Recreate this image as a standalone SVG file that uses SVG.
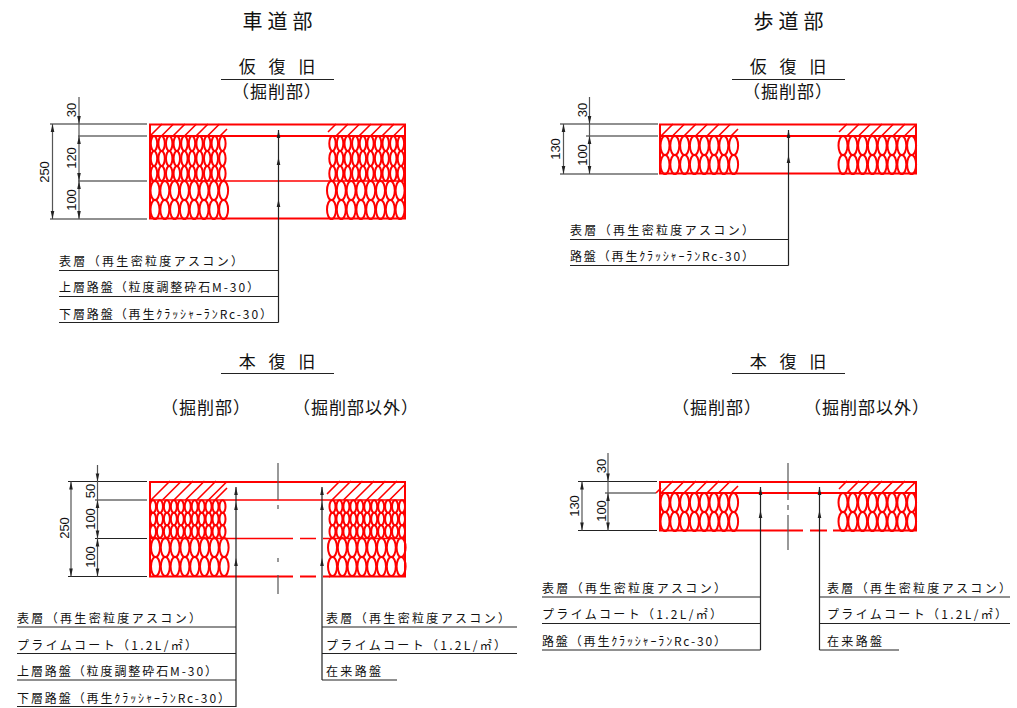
<svg xmlns="http://www.w3.org/2000/svg" xmlns:xlink="http://www.w3.org/1999/xlink" width="1017" height="708" viewBox="0 0 1017 708">
<style>
text{font-family:"Noto Sans CJK JP","Noto Sans",sans-serif;fill:#111}
.t1{font-size:20px;text-anchor:middle;letter-spacing:5px}
.t2{font-size:17px;text-anchor:middle;letter-spacing:1px}
.t3{font-size:17px;text-anchor:middle;word-spacing:9px}
.l{font-size:12px}
.d{font-family:"Liberation Sans",sans-serif;font-size:13px;text-anchor:middle}
.r{fill:none;stroke:#f00;stroke-width:2}
.r1{fill:none;stroke:#f00;stroke-width:1.6}
.e{fill:none;stroke:#f00;stroke-width:2}
.k{fill:none;stroke:#222;stroke-width:1.2}
.k2{fill:none;stroke:#555;stroke-width:1.2}
</style>
<defs>
<path id="u" d="M0 0l-1.800 8h3.600z" fill="#222"/>
<path id="n" d="M0 0l-1.800 -8h3.600z" fill="#222"/>
<ellipse id="a" rx="3.200" ry="7.400" class="e"/>
<ellipse id="b" rx="4.500" ry="9.600" class="e"/>
<ellipse id="c" rx="3" ry="6.300" class="e"/>
<g id="row10">
<use href="#a" x="0"/><use href="#a" x="7.600"/><use href="#a" x="15.200"/><use href="#a" x="22.800"/><use href="#a" x="30.400"/><use href="#a" x="38"/><use href="#a" x="45.600"/><use href="#a" x="53.200"/><use href="#a" x="60.800"/><use href="#a" x="68.400"/>
</g>
<g id="row8">
<use href="#b" x="0"/><use href="#b" x="9.800"/><use href="#b" x="19.600"/><use href="#b" x="29.400"/><use href="#b" x="39.200"/><use href="#b" x="49"/><use href="#b" x="58.800"/><use href="#b" x="68.600"/>
</g>
<g id="row11">
<use href="#c" x="0"/><use href="#c" x="6.950"/><use href="#c" x="13.900"/><use href="#c" x="20.850"/><use href="#c" x="27.800"/><use href="#c" x="34.750"/><use href="#c" x="41.700"/><use href="#c" x="48.650"/><use href="#c" x="55.600"/><use href="#c" x="62.550"/><use href="#c" x="69.500"/>
</g>
<path id="h12" class="r1" d="M1 12L13 0M12.500 12L24.500 0M24 12L36 0M35.500 12L47.500 0M47 12L59 0M58.500 12L70.500 0M71 12L78 5M179 8L187 0M187 12L199 0M198.500 12L210.500 0M210 12L222 0M221.500 12L233.500 0M233 12L245 0M244.500 12L256 .5"/>
<path id="h19" class="r1" d="M2 19L21 0M13.500 19L32.500 0M25 19L44 0M36.500 19L55.500 0M48 19L67 0M59.500 19L78 .5M66 19L78 7"/>
<path id="h19r" class="r1" d="M178 13L187 4L191 0M183 19L202 0M194.500 19L213.500 0M206 19L225 0M217.500 19L236.500 0M229 19L248 0M240.500 19L256 3.500"/>
</defs>

<g id="titles">
<text class="t1" x="280" y="29">車道部</text>
<text class="t1" x="791" y="29">歩道部</text>
</g>

<g id="panel-a">
<text class="t3" x="277" y="72.500">仮 復 旧</text>
<text class="t2" x="277" y="97.500">（掘削部）</text>
<path class="k" d="M221 79.500H334"/>
<rect class="r" x="150" y="124.500" width="255" height="94"/>
<path class="r" d="M150 136H405"/>
<path class="r1" d="M150 181H405"/>
<use href="#h12" x="149" y="124"/>
<use href="#row10" x="154" y="143.500"/><use href="#row10" x="154" y="158.500"/><use href="#row10" x="154" y="173.500"/>
<use href="#row10" x="332.500" y="143.500"/><use href="#row10" x="332.500" y="158.500"/><use href="#row10" x="332.500" y="173.500"/>
<use href="#row8" x="155" y="190.500"/><use href="#row8" x="155" y="209.500"/>
<use href="#row8" x="331.500" y="190.500"/><use href="#row8" x="331.500" y="209.500"/>
</g>

<g id="panel-b">
<text class="t3" x="788" y="72.500">仮 復 旧</text>
<text class="t2" x="788" y="97.500">（掘削部）</text>
<path class="k" d="M732 79.500H845"/>
<rect class="r" x="660" y="124.500" width="256" height="49"/>
<path class="r" d="M660 136H916"/>
<use href="#h12" x="660" y="124"/>
<use href="#row8" x="665" y="145.500"/><use href="#row8" x="665" y="164.500"/>
<use href="#row8" x="843" y="145.500"/><use href="#row8" x="843" y="164.500"/>
</g>

<g id="panel-c">
<text class="t3" x="277" y="368">本 復 旧</text>
<path class="k" d="M221 373.500H334"/>
<text class="t2" x="206" y="414">（掘削部）</text>
<text class="t2" x="356" y="414">（掘削部以外）</text>
<path class="r" d="M226 482H150V576.500H226M329 482H405V576.500H329M226 482H329"/>
<path class="r1" d="M150 500H405"/>
<path class="r1" d="M150 538.500H293M300 538.500H316M323 538.500H405"/>
<path class="r" d="M226 576.500H293M300 576.500H316M323 576.500H330"/>
<use href="#h19" x="149" y="481"/><use href="#h19r" x="149" y="481"/>
<use href="#row11" x="153" y="506.500"/><use href="#row11" x="153" y="519"/><use href="#row11" x="153" y="531.500"/>
<use href="#row11" x="332.500" y="506.500"/><use href="#row11" x="332.500" y="519"/><use href="#row11" x="332.500" y="531.500"/>
<use href="#row8" x="155.500" y="547.500"/><use href="#row8" x="155.500" y="566.500"/>
<use href="#row8" x="332.500" y="547.500"/><use href="#row8" x="332.500" y="566.500"/>
</g>

<g id="panel-d">
<text class="t3" x="788" y="368">本 復 旧</text>
<path class="k" d="M732 373.500H845"/>
<text class="t2" x="717" y="414">（掘削部）</text>
<text class="t2" x="867" y="414">（掘削部以外）</text>
<path class="r" d="M737 482H660V530.500H737M840 482H916V530.500H840M737 482H840"/>
<path class="r" d="M660 493H916"/>
<path class="r" d="M737 530.500H803M810 530.500H827M833 530.500H840"/>
<use href="#h12" x="660" y="481"/>
<path class="r1" d="M656 493L661 488"/>
<use href="#row8" x="665" y="502.500"/><use href="#row8" x="665" y="521.500"/>
<use href="#row8" x="843" y="502.500"/><use href="#row8" x="843" y="521.500"/>
</g>

<g id="labels">
<text class="l" x="59" y="266" textLength="184">表層（再生密粒度アスコン）</text>
<text class="l" x="59" y="292" textLength="200">上層路盤（粒度調整砕石M-30）</text>
<text class="l" x="59" y="319" textLength="213">下層路盤（再生ｸﾗｯｼｬｰﾗﾝRc-30）</text>
<text class="l" x="570" y="235" textLength="184">表層（再生密粒度アスコン）</text>
<text class="l" x="570" y="261" textLength="184">路盤（再生ｸﾗｯｼｬｰﾗﾝRc-30）</text>
<text class="l" x="17" y="623" textLength="184">表層（再生密粒度アスコン）</text>
<text class="l" x="17" y="650" textLength="180">プライムコート（1.2L/㎡）</text>
<text class="l" x="17" y="676" textLength="200">上層路盤（粒度調整砕石M-30）</text>
<text class="l" x="17" y="703" textLength="213">下層路盤（再生ｸﾗｯｼｬｰﾗﾝRc-30）</text>
<text class="l" x="326" y="623" textLength="184">表層（再生密粒度アスコン）</text>
<text class="l" x="326" y="650" textLength="180">プライムコート（1.2L/㎡）</text>
<text class="l" x="326" y="676" textLength="55">在来路盤</text>
<text class="l" x="542" y="593" textLength="184">表層（再生密粒度アスコン）</text>
<text class="l" x="542" y="619" textLength="180">プライムコート（1.2L/㎡）</text>
<text class="l" x="542" y="646" textLength="184">路盤（再生ｸﾗｯｼｬｰﾗﾝRc-30）</text>
<text class="l" x="827" y="593" textLength="184">表層（再生密粒度アスコン）</text>
<text class="l" x="827" y="619" textLength="180">プライムコート（1.2L/㎡）</text>
<text class="l" x="827" y="646" textLength="55">在来路盤</text>
</g>

<g id="dimension-labels">
<text class="d" transform="translate(76,110) rotate(-90)">30</text>
<text class="d" transform="translate(76,158) rotate(-90)">120</text>
<text class="d" transform="translate(76,200) rotate(-90)">100</text>
<text class="d" transform="translate(49,172) rotate(-90)">250</text>
<text class="d" transform="translate(587,110) rotate(-90)">30</text>
<text class="d" transform="translate(587,155) rotate(-90)">100</text>
<text class="d" transform="translate(560,149) rotate(-90)">130</text>
<text class="d" transform="translate(95,491) rotate(-90)">50</text>
<text class="d" transform="translate(95,519) rotate(-90)">100</text>
<text class="d" transform="translate(95,557) rotate(-90)">100</text>
<text class="d" transform="translate(69,528) rotate(-90)">250</text>
<text class="d" transform="translate(606,466) rotate(-90)">30</text>
<text class="d" transform="translate(606,511) rotate(-90)">100</text>
<text class="d" transform="translate(579,506) rotate(-90)">130</text>
</g>

<g id="connectors">
<path class="k" d="M278.500 130V322.500M59 270.500H278.500M59 296.500H278.500M59 322.500H278.500"/>
<path class="k" d="M788.500 130V265.500M570 239.500H788.500M570 265.500H788.500"/>
<path class="k" d="M236 487V707M17 627H236M17 653.500H236M17 680H236M17 706.500H236"/>
<path class="k" d="M322 487V680M322 627H517M322 653.500H517M322 680H397"/>
<path class="k" d="M760.500 487V650M542 597H760.500M542 623.500H760.500M542 650H760.500"/>
<path class="k" d="M819.500 487V650M819.500 597H1010M819.500 623.500H1010M819.500 650H899"/>
<path class="k2" d="M278 463V500M278 505V509M278 558V562M278 575V594"/>
<path class="k2" d="M788 463V500M788 505V510M788 515V550"/>

<path class="k" d="M50 124H147M78 136H147M78 181H147M50 219H147"/>
<path class="k2" d="M79 97V219M52.500 124V219"/>
<path class="k" d="M560 124H658M586 136H658M560 174H658"/>
<path class="k2" d="M589.500 97V174M563.500 124V174"/>
<path class="k" d="M68 481.500H147M95 500H147M95 538.500H147M68 576.500H147"/>
<path class="k2" d="M97.500 465V576.500M71 481.500V576.500"/>
<path class="k" d="M578 481.500H657M605 493H656M578 530.500H657"/>
<path class="k2" d="M608 453V530.500M582 481.500V530.500"/>

<g id="arrowheads">
<use href="#u" x="278.500" y="130"/><use href="#u" x="278.500" y="157"/><use href="#u" x="278.500" y="199"/>
<use href="#u" x="788.500" y="130"/><use href="#u" x="788.500" y="155"/>
<use href="#u" x="236" y="487"/><use href="#u" x="236" y="502"/><use href="#u" x="236" y="558"/>
<use href="#u" x="322" y="487"/><use href="#u" x="322" y="502"/><use href="#u" x="322" y="558"/>
<use href="#u" x="760.500" y="487"/><use href="#u" x="760.500" y="510"/>
<use href="#u" x="819.500" y="487"/><use href="#u" x="819.500" y="510"/>
<use href="#n" x="79" y="124"/><use href="#u" x="79" y="136"/><use href="#n" x="79" y="181"/><use href="#u" x="79" y="181"/><use href="#n" x="79" y="219"/>
<use href="#u" x="52.500" y="124"/><use href="#n" x="52.500" y="219"/>
<use href="#n" x="589.500" y="124"/><use href="#u" x="589.500" y="136"/><use href="#n" x="589.500" y="174"/>
<use href="#u" x="563.500" y="124"/><use href="#n" x="563.500" y="174"/>
<use href="#n" x="97.500" y="481.500"/><use href="#u" x="97.500" y="500"/><use href="#n" x="97.500" y="538.500"/><use href="#u" x="97.500" y="538.500"/><use href="#n" x="97.500" y="576.500"/>
<use href="#u" x="71" y="481.500"/><use href="#n" x="71" y="576.500"/>
<use href="#n" x="608" y="481.500"/><use href="#u" x="608" y="493"/><use href="#n" x="608" y="530.500"/>
<use href="#u" x="582" y="481.500"/><use href="#n" x="582" y="530.500"/>
</g>
</g>
</svg>
